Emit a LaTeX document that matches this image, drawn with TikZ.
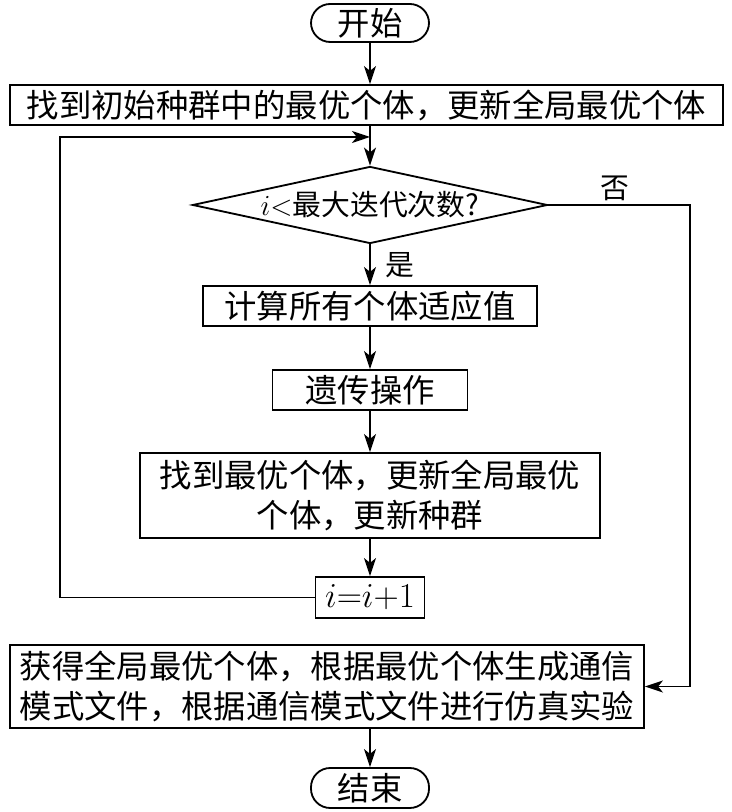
\documentclass[tikz,border=0pt]{standalone}
\usepackage{fontspec}
\setmainfont{Noto Sans CJK SC}
\usetikzlibrary{arrows.meta,shapes.geometric}

\begin{document}
\begin{tikzpicture}[
    line width=1.3pt,
    arr/.style={-{Stealth[length=4.5mm,width=3mm,inset=1.2mm]}},
    box/.style={draw, rectangle, inner sep=0pt, align=center, font=\fontsize{23pt}{28pt}\selectfont},
    term/.style={box, rounded corners=0.48cm, minimum width=2.95cm},
    decision/.style={draw, diamond, inner sep=0pt, minimum width=8.875cm, minimum height=1.925cm},
    lab/.style={inner sep=0pt, font=\fontsize{20.5pt}{24pt}\selectfont}
]
    \useasboundingbox (0,0) rectangle (18.275,20.3);
    % nodes
    \node[term, minimum height=0.95cm] (start) at (9.25,19.725) {开始};
    \node[box, minimum width=17.825cm, minimum height=1cm] (init) at (9.1625,17.675) {找到初始种群中的最优个体，更新全局最优个体};
    \node[decision] (cond) at (9.25,15.175) {};
    \node[lab] (condtxt) at (cond) {$i{<}$最大迭代次数?};
    \node[box, minimum width=8.35cm, minimum height=1cm] (fit) at (9.25,12.65) {计算所有个体适应值};
    \node[box, minimum width=4.875cm, minimum height=1cm] (gen) at (9.25,10.55) {遗传操作};
    \node[box, minimum width=11.5cm, minimum height=2.125cm] (upd) at (9.25,7.9125) {找到最优个体，更新全局最优\\个体，更新种群};
    \node[box, minimum width=2.725cm, minimum height=1.025cm] (inc) at (9.25,5.3625) {$i{=}i{+}1$};
    \node[box, minimum width=15.85cm, minimum height=2.075cm] (res) at (8.175,3.1375) {获得全局最优个体，根据最优个体生成通信\\模式文件，根据通信模式文件进行仿真实验};
    \node[term, minimum height=1cm] (stop) at (9.25,0.6) {结束};
    \node[lab] (yes) at (10.0,13.675) {是};
    \node[lab] (no) at (15.375,15.6) {否};
    \coordinate (loopl) at (1.5,16.875);
    \coordinate (loopr) at (9.25,16.875);
    \coordinate (rt) at (17.25,15.175);
    % connectors
    \draw[arr] (start.south) -- (start.south |- init.north);
    \draw[arr] (init.south -| cond.north) -- (cond.north);
    \draw[arr] (inc.west) -| (loopl) -- (loopr);
    \draw[arr] (cond.south) -- (fit.north);
    \draw[arr] (fit.south) -- (gen.north);
    \draw[arr] (gen.south) -- (upd.north);
    \draw[arr] (upd.south) -- (inc.north);
    \draw[arr] (cond.east) -- (rt) |- (res.east);
    \draw[arr] (res.south -| stop.north) -- (stop.north);
\end{tikzpicture}
\end{document}
